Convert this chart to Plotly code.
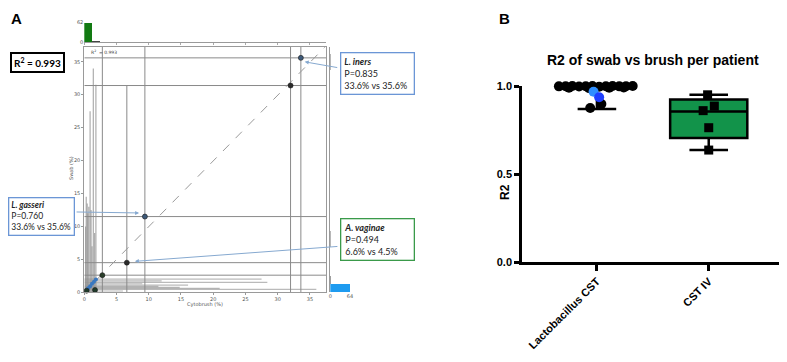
import plotly.graph_objects as go

# the page body has an 8px margin, so positions are given in page pixels minus 8
OFF = 8
W, H = 787 - OFF, 362 - OFF

# ---------------- Panel A data ----------------
pt_x = [33.6, 32.0, 9.4, 6.6, 2.8, 0.37, 1.66]
pt_y = [35.6, 31.4, 11.5, 4.5, 2.6, 0.25, 0.35]
pt_col = ["#3d5a7a", "#2b2b2b", "#3d5a7a", "#2b2b2b", "#2b3f2b", "#1f3a2a", "#1f3a2a"]
blue_x = [0.6, 0.9, 1.2, 1.5, 1.8]
blue_y = [0.6, 0.9, 1.3, 1.6, 1.95]

vline_x = [2.8, 6.6, 9.4, 32.0, 33.6]
vline_top = [37.25, 31.4, 37.25, 37.25, 37.25]
hline_y = [35.6, 31.4, 11.5, 4.5, 2.6]
hline_right = [37.5, 37.5, 37.5, 37.5, 37.5]

spike_x = [0.2, 0.3, 0.45, 0.55, 0.7, 0.9, 1.05, 1.2, 1.4, 1.6, 1.8]
spike_top = [10.0, 14.5, 13.5, 12.0, 13.0, 27.5, 12.5, 7.0, 34.0, 9.0, 31.5]
hspike_y = [0.2, 0.45, 0.6, 0.76, 0.9, 1.1, 1.3, 1.5, 1.75, 2.0]
hspike_right = [6.0, 36.0, 21.0, 14.8, 11.5, 16.1, 9.0, 28.4, 12.0, 27.5]

top_bin_w = 1.25
top_bin_c = [0.625, 1.875, 5.625, 9.375, 31.875, 33.125]
top_counts = [62, 2, 0.5, 0.5, 0.5, 0.5]
top_cols = ["#127a12", "#444444", "#555555", "#555555", "#555555", "#555555"]

right_bin_w = 1.25
right_bin_c = [0.625, 1.875, 7.5, 8.75, 34.4, 35.6]
right_counts = [64, 1.5, 1, 1, 1, 1]
right_cols = ["#1e9bf0", "#777777", "#999999", "#999999", "#999999", "#999999"]

# ---------------- Panel B data ----------------
cats = ["Lactobacillus CST", "CST IV"]
lacto_off = [-0.34, -0.28, -0.22, -0.16, -0.10, -0.04, 0.02, 0.08, 0.14, 0.20, 0.26, 0.32,
             -0.25, -0.07, 0.11, 0.24, 0.04, -0.06]
lacto_r2 = [0.998, 0.999, 1.0, 0.997, 0.999, 1.0, 0.996, 0.999, 1.0, 0.998, 0.999, 1.0,
            0.99, 0.988, 0.99, 0.991, 0.898, 0.875]
lacto_blue_off = [-0.03, 0.02]
lacto_blue_r2 = [0.967, 0.936]
lacto_blue_col = ["#2f8fff", "#1f3fff"]
cst4_off = [-0.01, 0.05, -0.05, 0.0, 0.0]
cst4_r2 = [0.95, 0.886, 0.86, 0.763, 0.636]
box_q1 = [0.99, 0.705]
box_med = [0.998, 0.855]
box_q3 = [1.0, 0.924]
box_lo = [0.87, 0.636]
box_hi = [1.0, 0.95]


def fx(p):
    return (p - OFF) / W


def fy(p):
    return 1 - (p - OFF) / H


def seg_v(xs, tops):
    X, Y = [], []
    for x, t in zip(xs, tops):
        X += [x, x, None]
        Y += [0, t, None]
    return X, Y


def seg_h(ys, rights):
    X, Y = [], []
    for y, r in zip(ys, rights):
        X += [0, r, None]
        Y += [y, y, None]
    return X, Y


fig = go.Figure()

sx, sy = seg_v(spike_x, spike_top)
fig.add_trace(go.Scatter(x=sx, y=sy, mode="lines", line=dict(color="rgba(140,140,140,0.7)", width=1.2),
                         hoverinfo="skip", showlegend=False))
sx, sy = seg_h(hspike_y, hspike_right)
fig.add_trace(go.Scatter(x=sx, y=sy, mode="lines", line=dict(color="rgba(140,140,140,0.6)", width=1.2),
                         hoverinfo="skip", showlegend=False))
sx, sy = seg_v(vline_x, vline_top)
fig.add_trace(go.Scatter(x=sx, y=sy, mode="lines", line=dict(color="#8a8a8a", width=1),
                         hoverinfo="skip", showlegend=False))
sx, sy = seg_h(hline_y, hline_right)
fig.add_trace(go.Scatter(x=sx, y=sy, mode="lines", line=dict(color="#8a8a8a", width=1),
                         hoverinfo="skip", showlegend=False))
fig.add_trace(go.Scatter(x=[0, 37.3], y=[0, 37.2], mode="lines",
                         line=dict(color="#999999", width=1, dash="dash"), hoverinfo="skip", showlegend=False))
fig.add_trace(go.Scatter(x=blue_x, y=blue_y, mode="markers+lines",
                         line=dict(color="#4a86c8", width=2),
                         marker=dict(size=4, color="#3a78c0"), showlegend=False))
fig.add_trace(go.Scatter(x=pt_x, y=pt_y, mode="markers",
                         marker=dict(size=5, color=pt_col, line=dict(color="#1a1a1a", width=0.6)),
                         showlegend=False, cliponaxis=False))

fig.add_trace(go.Bar(x=top_bin_c, y=top_counts, width=top_bin_w, marker=dict(color=top_cols, line=dict(width=0)),
                     xaxis="x2", yaxis="y2", showlegend=False))
fig.add_trace(go.Bar(y=right_bin_c, x=right_counts, width=right_bin_w, orientation="h",
                     marker=dict(color=right_cols, line=dict(width=0)),
                     xaxis="x3", yaxis="y3", showlegend=False))

for i in range(2):
    fig.add_trace(go.Box(x=[i], q1=[box_q1[i]], median=[box_med[i]], q3=[box_q3[i]],
                         lowerfence=[box_lo[i]], upperfence=[box_hi[i]],
                         width=0.69, whiskerwidth=0.5,
                         fillcolor="#12934a" if i == 1 else "white",
                         line=dict(color="black", width=2.5), boxpoints=False,
                         xaxis="x4", yaxis="y4", showlegend=False))
fig.add_trace(go.Scatter(x=[0 + o for o in lacto_off], y=lacto_r2, mode="markers",
                         marker=dict(size=10, color="black", symbol="circle"),
                         xaxis="x4", yaxis="y4", showlegend=False, cliponaxis=False))
fig.add_trace(go.Scatter(x=[0 + o for o in lacto_blue_off], y=lacto_blue_r2, mode="markers",
                         marker=dict(size=10, color=lacto_blue_col, symbol="circle"),
                         xaxis="x4", yaxis="y4", showlegend=False, cliponaxis=False))
fig.add_trace(go.Scatter(x=[1 + o for o in cst4_off], y=cst4_r2, mode="markers",
                         marker=dict(size=9, color="black", symbol="square"),
                         xaxis="x4", yaxis="y4", showlegend=False, cliponaxis=False))

small = dict(family="DejaVu Sans", size=5, color="#555555")
gray_ax = dict(showgrid=False, zeroline=False, showline=True, linecolor="#9a9a9a", linewidth=1,
               automargin=False)
noline = dict(showgrid=False, zeroline=False, showline=False, automargin=False)

fig.update_layout(
    width=W, height=H, margin=dict(l=0, r=0, t=0, b=0, pad=0, autoexpand=False), autosize=False,
    paper_bgcolor="white", plot_bgcolor="rgba(0,0,0,0)", bargap=0,
    xaxis=dict(domain=[fx(84.3), fx(326)], range=[0, 37.5], tickvals=list(range(0, 36, 5)),
               ticks="outside", ticklen=2, tickcolor="#999", tickfont=small, mirror=True, anchor="y",
               **gray_ax),
    yaxis=dict(domain=[fy(292.3), fy(47)], range=[0, 37.25], tickvals=list(range(0, 36, 5)),
               ticks="outside", ticklen=2, tickcolor="#999", tickfont=small, mirror=True, anchor="x",
               **gray_ax),
    xaxis2=dict(domain=[fx(84.3), fx(326)], range=[0, 37.5], anchor="y2", tickvals=list(range(0, 36, 5)),
                showticklabels=False, ticks="outside", ticklen=2, tickcolor="#aaa", **gray_ax),
    yaxis2=dict(domain=[fy(42.3), fy(22.7)], range=[0, 62], anchor="x2", tickvals=[0, 62],
                tickfont=small, **noline),
    xaxis3=dict(domain=[fx(330.3), fx(350)], range=[0, 64], anchor="y3", tickvals=[0, 64],
                tickfont=small, **noline),
    yaxis3=dict(domain=[fy(292.3), fy(47)], range=[0, 37.25], anchor="x3", showticklabels=False,
                **gray_ax),
    xaxis4=dict(domain=[fx(522), 1.0], range=[-0.67, 1.70], anchor="y4", tickvals=[0, 1], ticktext=cats,
                tickangle=-45, showline=True, linecolor="black", linewidth=2.5, ticks="outside",
                ticklen=6, tickwidth=2.5, tickcolor="black", showgrid=False, zeroline=False,
                automargin=False,
                tickfont=dict(family="Arial", size=11, color="black", weight="bold")),
    yaxis4=dict(domain=[fy(262), fy(86)], range=[0, 1.0], anchor="x4", tickvals=[0, 0.5, 1.0],
                ticktext=["0.0", "0.5", "1.0"], showline=True, linecolor="black", linewidth=2.5,
                ticks="outside", ticklen=5, tickwidth=2.5, tickcolor="black", showgrid=False,
                zeroline=False, automargin=False,
                tickfont=dict(family="Arial", size=11, color="black", weight="bold")),
)

ann = []
ann.append(dict(text="<b>A</b>", x=fx(8.5), y=fy(8), xref="paper", yref="paper", xanchor="left", yanchor="top",
                showarrow=False, font=dict(family="Arial", size=15, color="black")))
ann.append(dict(text="<b>B</b>", x=fx(497), y=fy(8), xref="paper", yref="paper", xanchor="left", yanchor="top",
                showarrow=False, font=dict(family="Arial", size=15, color="black")))
ann.append(dict(text="Cytobrush (%)", x=fx(205), y=fy(304), xref="paper", yref="paper", showarrow=False,
                xanchor="center", yanchor="middle", font=small))
ann.append(dict(text="Swab (%)", x=fx(71), y=fy(168), xref="paper", yref="paper", showarrow=False,
                xanchor="center", yanchor="middle", textangle=-90, font=small))
ann.append(dict(text="R<sup>2</sup>  = 0.993", x=fx(89), y=fy(52), xref="paper", yref="paper", showarrow=False,
                xanchor="left", yanchor="middle", font=dict(family="DejaVu Sans", size=4.5, color="#444")))
ann.append(dict(text="<b>R<sup>2</sup> = 0.993</b>", x=fx(37), y=fy(62), xref="paper", yref="paper",
                showarrow=False, xanchor="center", yanchor="middle",
                font=dict(family="Lato", size=10, color="black"),
                bordercolor="black", borderwidth=2, borderpad=2, bgcolor="white"))
box_font = dict(family="Lato", size=9, color="#222")
ann.append(dict(text="<b><i>L. iners</i></b><br>P=0.835<br>33.6% vs 35.6%", x=fx(339.5), y=fy(52),
                xref="paper", yref="paper", xanchor="left", yanchor="top", align="left", showarrow=False,
                font=box_font, bordercolor="#6b96d6", borderwidth=1.3, borderpad=3, bgcolor="white", width=66))
ann.append(dict(text="<b><i>L. gasseri</i></b><br>P=0.760<br>33.6% vs 35.6%", x=fx(8), y=fy(197),
                xref="paper", yref="paper", xanchor="left", yanchor="top", align="left", showarrow=False,
                font=dict(family="Lato", size=8.5, color="#222"), bordercolor="#6b96d6", borderwidth=1.3,
                borderpad=2, bgcolor="white", width=60))
ann.append(dict(text="<b><i>A. vaginae</i></b><br>P=0.494<br>6.6% vs 4.5%", x=fx(339.5), y=fy(218),
                xref="paper", yref="paper", xanchor="left", yanchor="top", align="left", showarrow=False,
                font=box_font, bordercolor="#3a9a4a", borderwidth=1.3, borderpad=3, bgcolor="white", width=66))
arrow = dict(xref="x", yref="y", text="", showarrow=True, arrowhead=2, arrowsize=0.8, arrowwidth=1,
             arrowcolor="#86a9d0")
ann.append(dict(x=34.2, y=35.0, ax=34, ay=6, **arrow))
ann.append(dict(x=8.5, y=12.05, ax=-64, ay=-1, **arrow))
ann.append(dict(x=7.85, y=4.7, ax=204, ay=-15, **arrow))
ann.append(dict(text="<b>R2 of swab vs brush per patient</b>", x=fx(653), y=fy(60), xref="paper",
                yref="paper", showarrow=False, xanchor="center", yanchor="middle",
                font=dict(family="Arial", size=14, color="black")))
ann.append(dict(text="<b>R2</b>", x=fx(505), y=fy(192), xref="paper", yref="paper", showarrow=False,
                xanchor="center", yanchor="middle", textangle=-90,
                font=dict(family="Arial", size=12, color="black")))
fig.update_layout(annotations=ann)

fig.write_html("out.html")
